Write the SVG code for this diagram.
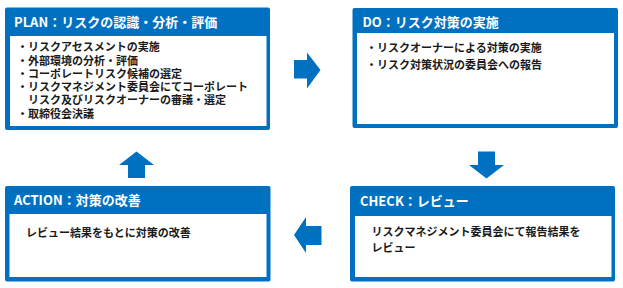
<svg xmlns="http://www.w3.org/2000/svg" width="623" height="288" viewBox="0 0 623 288">
<style>
.outer{fill:#0070C0}
.inner{fill:#ffffff}
.title{font-family:"Noto Sans CJK JP","Noto Sans",sans-serif;font-weight:bold;font-size:13px;fill:#ffffff}
.body{font-family:"Noto Sans CJK JP","Noto Sans",sans-serif;font-weight:bold;font-size:11px;fill:#1a1a1a}
.arrow{fill:#0070C0}
</style>
<rect width="623" height="288" fill="#ffffff"/>
<g id="plan">
<rect class="outer" x="5" y="7.5" width="265" height="122.5" rx="2"/>
<rect class="inner" x="10" y="36" width="256.5" height="90"/>
<text class="title" x="14" y="26.5">PLAN：リスクの認識・分析・評価</text>
<text class="body" x="17" y="51">・リスクアセスメントの実施</text>
<text class="body" x="17" y="64.5">・外部環境の分析・評価</text>
<text class="body" x="17" y="77.5">・コーポレートリスク候補の選定</text>
<text class="body" x="17" y="90.5">・リスクマネジメント委員会にてコーポレート</text>
<text class="body" x="28" y="104">リスク及びリスクオーナーの審議・選定</text>
<text class="body" x="17" y="117.5">・取締役会決議</text>
</g>
<g id="do">
<rect class="outer" x="352.5" y="8" width="265.5" height="120" rx="2"/>
<rect class="inner" x="357" y="33" width="257" height="91"/>
<text class="title" x="362.5" y="27">DO：リスク対策の実施</text>
<text class="body" x="366" y="52">・リスクオーナーによる対策の実施</text>
<text class="body" x="366" y="69">・リスク対策状況の委員会への報告</text>
</g>
<g id="check">
<rect class="outer" x="350" y="186" width="265" height="95.5" rx="2"/>
<rect class="inner" x="355" y="216" width="256.5" height="61"/>
<text class="title" x="360" y="206">CHECK：レビュー</text>
<text class="body" x="371.5" y="235.5">リスクマネジメント委員会にて報告結果を</text>
<text class="body" x="371.5" y="251.5">レビュー</text>
</g>
<g id="action">
<rect class="outer" x="5" y="186" width="265.5" height="95.5" rx="2"/>
<rect class="inner" x="9.5" y="214" width="257" height="63"/>
<text class="title" x="14" y="204.5">ACTION：対策の改善</text>
<text class="body" x="26" y="237">レビュー結果をもとに対策の改善</text>
</g>
<g id="connectors">
<polygon class="arrow" points="294,60 307,60 307,52.5 320.5,70 307,88.5 307,78.5 294,78.5"/>
<polygon class="arrow" points="478,151.5 495,151.5 495,165 504,165 486.5,178.5 469,165 478,165"/>
<polygon class="arrow" points="321.5,226 306,226 306,217 294,235 306,253 306,245 321.5,245"/>
<polygon class="arrow" points="128,178 145,178 145,165 154,165 136.5,151.5 119,165 128,165"/>
</g>
</svg>
